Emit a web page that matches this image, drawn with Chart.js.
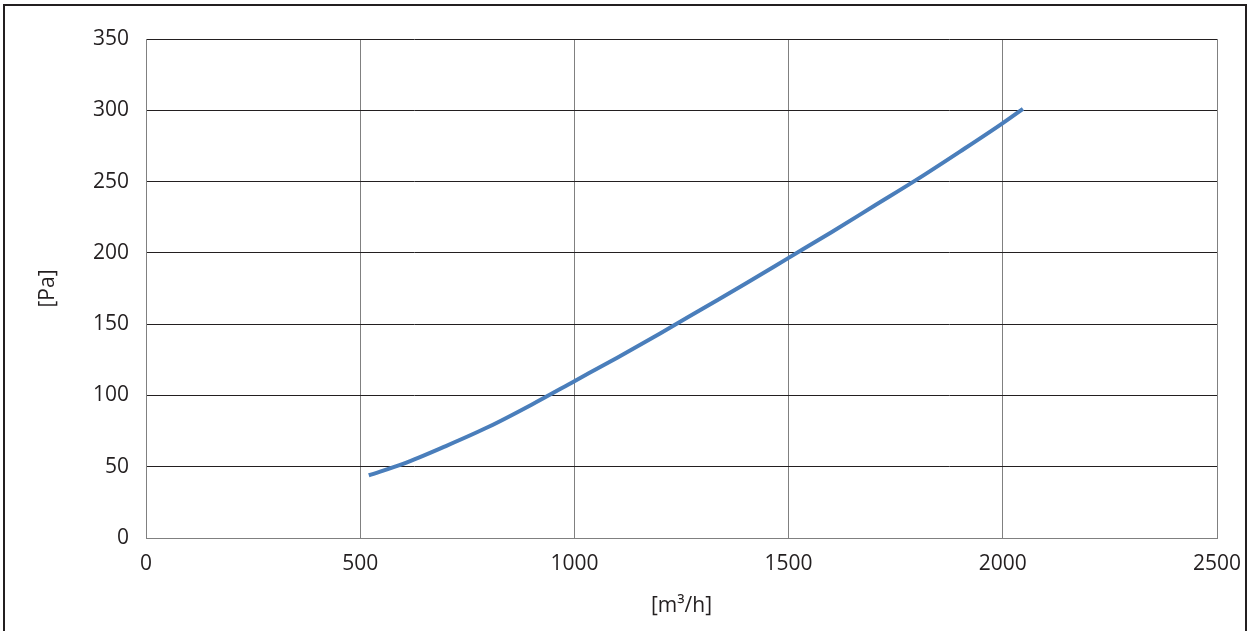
<!DOCTYPE html>
<html>
<head>
<meta charset="utf-8">
<script src="https://cdn.jsdelivr.net/npm/chart.js@4/dist/chart.umd.min.js"></script>
<style>
  html, body { margin: 0; padding: 0; background: #fff; }
  #wrap { position: relative; width: 1252px; height: 631px; overflow: hidden; }
  #frame { position: absolute; left: 3px; top: 4px; width: 1244px; height: 640px; border: 2px solid #231f20; box-sizing: border-box; }
  #c { position: absolute; left: 0; top: 0; }
</style>
</head>
<body>
<div id="wrap">
  <div id="frame"></div>
  <canvas id="c" width="1252" height="631"></canvas>
</div>
<script>
(function () {
    'use strict';

    // airflow [m3/h] vs pressure [Pa]
    var flow     = [520, 600, 700, 800, 900, 1000, 1100, 1200, 1300, 1400, 1500, 1600, 1700, 1800, 1900, 2000, 2047];
    var pressure = [44,  52,  64.5, 78, 93.5, 110, 126.5, 143.5, 161, 178.5, 196.5, 214.5, 233, 251.5, 271, 291, 301];

    var X_TITLE = '[m\u00b3/h]';
    var Y_TITLE = '[Pa]';
    var FONT = '"Open Sans", "Noto Sans", sans-serif';

    var points = flow.map(function (x, i) { return { x: x, y: pressure[i] }; });

    new Chart(document.getElementById('c'), {
        type: 'scatter',
        data: {
            datasets: [{
                data: points,
                showLine: true,
                borderColor: '#4a7ebb',
                borderWidth: 4,
                pointRadius: 0,
                cubicInterpolationMode: 'monotone',
                fill: false
            }]
        },
        options: {
            responsive: false,
            animation: false,
            layout: { padding: { left: 0, right: 35, top: 39, bottom: 0 } },
            plugins: { legend: { display: false }, tooltip: { enabled: false } },
            scales: {
                x: {
                    type: 'linear',
                    min: 0, max: 2500,
                    ticks: {
                        stepSize: 500, padding: 13, color: '#231f20', maxRotation: 0,
                        font: { family: FONT, size: 21 },
                        callback: function (v) { return String(v); }
                    },
                    grid: { color: '#808080', lineWidth: 1, drawTicks: false },
                    border: { color: '#808080' },
                    title: { display: true, text: X_TITLE, color: '#231f20', font: { family: FONT, size: 21 }, padding: { top: 4, bottom: 12 } },
                    afterFit: function (s) { s.height = 93; s.paddingRight = 0; s.paddingLeft = 0; }
                },
                y: {
                    min: 0, max: 350,
                    ticks: { stepSize: 50, padding: 17, color: '#231f20', font: { family: FONT, size: 21 } },
                    grid: { color: '#231f20', lineWidth: 1, drawTicks: false },
                    border: { color: '#808080' },
                    title: { display: true, text: Y_TITLE, color: '#231f20', font: { family: FONT, size: 21 }, padding: { top: 35 } },
                    afterFit: function (s) { s.width = 146; s.paddingTop = 0; s.paddingBottom = 0; }
                }
            }
        }
    });
})();
</script>
</body>
</html>
